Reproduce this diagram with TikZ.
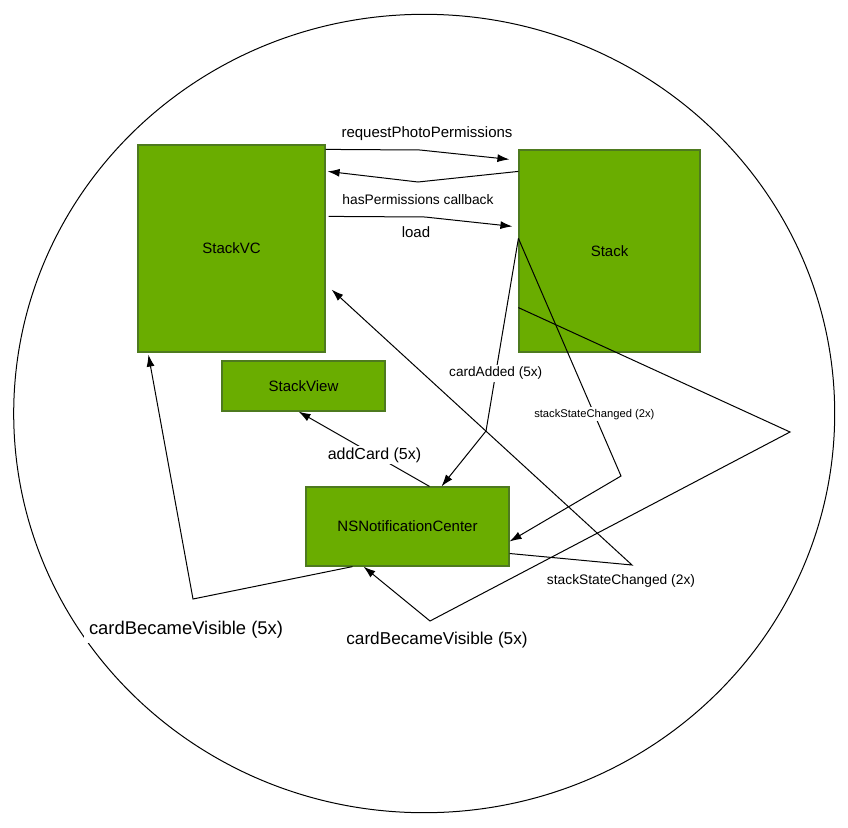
\documentclass[tikz,border=0pt]{standalone}
\usepackage{fontspec}
\setmainfont{Liberation Sans}
\usepackage{tikz}
\usetikzlibrary{arrows.meta}
\definecolor{boxgreen}{HTML}{6AAD00}
\definecolor{boxedge}{HTML}{4E7A1F}
\tikzstyle{block} = [rectangle, draw=boxedge, fill=boxgreen, line width=1.2pt, text centered, inner sep=0pt, font=\fontsize{15}{18}\selectfont]
\tikzstyle{msg} = [fill=white, inner sep=2pt, font=\fontsize{14}{17}\selectfont]
\tikzstyle{arrow} = [line width=1pt, -{Latex[length=12pt,width=8pt]}]

\begin{document}
\begin{tikzpicture}[x=1pt, y=-1pt, line join=miter]
    \useasboundingbox (0,0) rectangle (848,827);
    \draw [line width=1pt] (424.2,413.5) ellipse [x radius=410.5pt, y radius=399.2pt];

    \node (vc) [block, minimum width=187pt, minimum height=207pt] at (231.5,248.5) {StackVC};
    \node (stack) [block, minimum width=181pt, minimum height=202pt] at (609.5,251) {Stack};
    \node (sview) [block, minimum width=163pt, minimum height=50pt] at (303.5,386) {StackView};
    \node (nc) [block, minimum width=203pt, minimum height=79pt] at (407.5,526.5) {NSNotificationCenter};

    \coordinate (reqbend) at (420,150);
    \coordinate (cbbend) at (418,182);
    \coordinate (loadbend) at (425,217);
    \coordinate (addbend) at (486,431);
    \coordinate (statebend) at (621,476);
    \coordinate (farright) at (790,432);
    \coordinate (visbend) at (430,621);
    \coordinate (leftbend) at (193,599);
    \coordinate (statebend2) at (632,565);

    \draw [arrow] ([yshift=-5pt]vc.north east) -- (reqbend) -- ([xshift=-9pt,yshift=-10pt]stack.north west);
    \draw [arrow] ([yshift=-22pt]stack.north west) -- (cbbend) -- ([xshift=2pt,yshift=-27pt]vc.north east);
    \draw [arrow] ([xshift=3pt,yshift=-72pt]vc.north east) -- (loadbend) -- ([xshift=-6pt,yshift=-77pt]stack.north west);
    \draw [arrow] ([yshift=-89pt]stack.north west) -- node (addedlbl) [msg, pos=0.7, font=\fontsize{13.6}{16}\selectfont] {cardAdded (5x)} (addbend) -- ([xshift=34pt]nc.north);
    \draw [arrow] ([yshift=-89pt]stack.north west) -- node (statelbl) [msg, pos=0.74, font=\fontsize{11.2}{13}\selectfont] {stackStateChanged (2x)} (statebend) -- ([yshift=-15pt]nc.east);
    \draw [arrow] ([yshift=45pt]stack.south west) -- (farright) -- (visbend) -- ([xshift=-44pt]nc.south);
    \draw [arrow] ([xshift=-55pt]nc.south) -- (leftbend) -- ([xshift=11pt,yshift=-2pt]vc.south west);
    \draw [arrow] ([yshift=-27pt]nc.east) -- (statebend2) -- ([xshift=6pt,yshift=63pt]vc.south east);
    \draw [arrow] ([xshift=22pt]nc.north) -- node (cardlbl) [msg, pos=0.42, font=\fontsize{16}{19}\selectfont] {addCard (5x)} ([xshift=-5pt]sview.south);

    \node (reqlbl) [msg, font=\fontsize{15}{18}\selectfont] at (427,134) {requestPhotoPermissions};
    \node (cblbl) [msg, font=\fontsize{13.8}{16}\selectfont] at (418,200) {hasPermissions callback};
    \node (loadlbl) [msg, font=\fontsize{15}{18}\selectfont] at (416,232) {load};
    \node (state2lbl) [msg, font=\fontsize{13.8}{16}\selectfont] at (621,581) {stackStateChanged (2x)};
    \node (visleftlbl) [msg, inner xsep=5pt, inner ysep=4pt, font=\fontsize{18.4}{22}\selectfont] at (186,630) {cardBecameVisible (5x)};
    \node (visrightlbl) [msg, font=\fontsize{17.2}{20}\selectfont] at (437,640) {cardBecameVisible (5x)};
\end{tikzpicture}
\end{document}
